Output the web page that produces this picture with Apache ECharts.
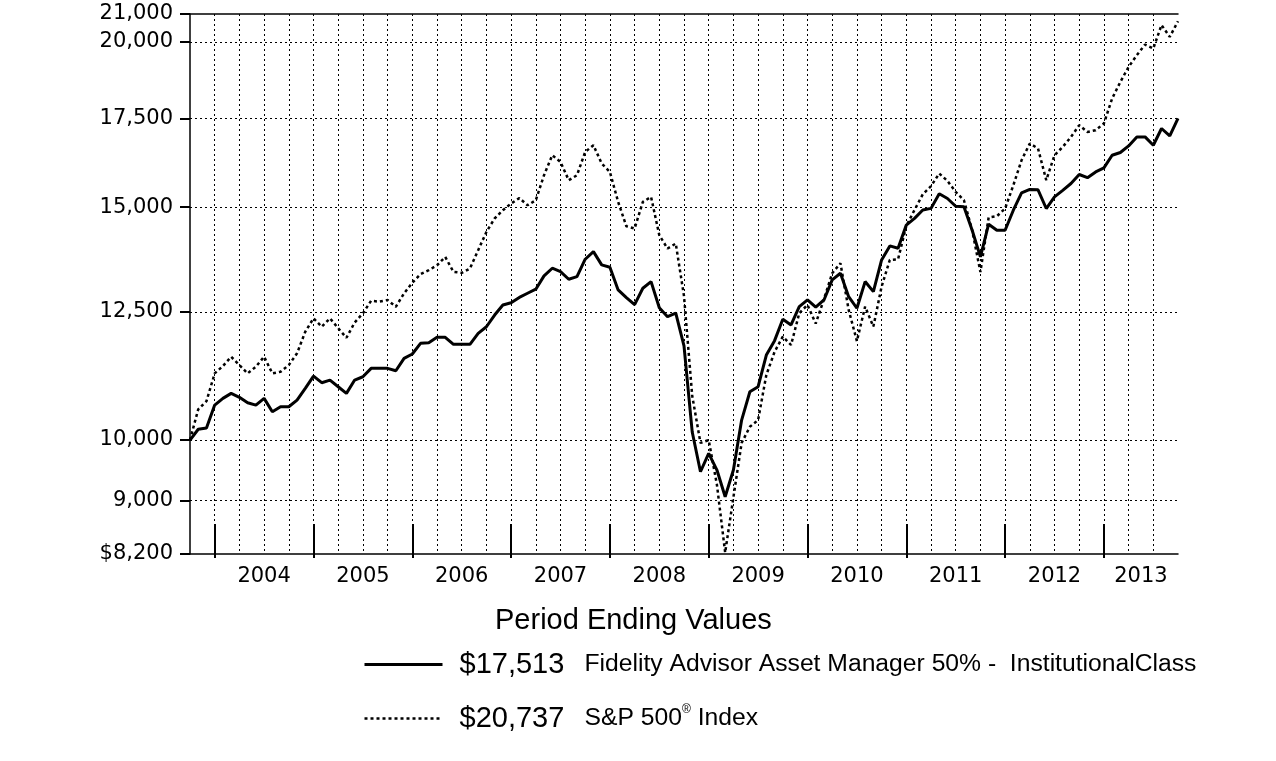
<!DOCTYPE html>
<html><head><meta charset="utf-8">
<script src="https://cdn.jsdelivr.net/npm/echarts@6/dist/echarts.min.js"></script>
<style>html,body{margin:0;padding:0;background:#fff}#c{width:1276px;height:761px}</style>
</head><body><div id="c"></div>
<script>
// Monthly period-ending values of a $10,000 investment, Sep 30 2003 .. Sep 30 2013
const startYear = 2003;
const startMonth = 9;
const fundName = 'Fidelity Advisor Asset Manager 50% -  InstitutionalClass';
const indexName = 'S&P 500® Index';
const fundEnding = '$17,513';
const indexEnding = '$20,737';
const legendTitle = 'Period Ending Values';
const fundValues = [
  10000, 10190, 10210, 10628, 10753, 10847, 10772, 10672, 10628, 10753, 10505, 10597,
  10597, 10721, 10942, 11179, 11050, 11101, 10973, 10847, 11101, 11165, 11330, 11330,
  11330, 11283, 11529, 11616, 11834, 11846, 11958, 11958, 11814, 11814, 11814, 12042,
  12181, 12432, 12650, 12701, 12820, 12913, 13004, 13309, 13488, 13409, 13232, 13293,
  13701, 13884, 13566, 13511, 12987, 12815, 12660, 13025, 13176, 12590, 12397, 12475,
  11780, 10140, 9463, 9771, 9491, 9060, 9491, 10354, 10878, 10973, 11596, 11890,
  12341, 12220, 12616, 12763, 12603, 12763, 13216, 13371, 12837, 12580, 13178, 12950,
  13685, 14023, 13966, 14541, 14711, 14926, 14970, 15356, 15230, 15026, 15009, 14410,
  13757, 14562, 14410, 14410, 14922, 15378, 15473, 15460, 14966, 15272, 15448, 15632,
  15879, 15791, 15951, 16062, 16421, 16500, 16690, 16953, 16953, 16710, 17204, 16983,
  17513
];
const indexValues = [
  10000, 10550, 10700, 11231, 11375, 11561, 11395, 11231, 11362, 11561, 11231, 11263,
  11395, 11630, 12076, 12361, 12181, 12361, 12150, 11950, 12270, 12469, 12745, 12725,
  12761, 12613, 12911, 13150, 13349, 13442, 13558, 13756, 13403, 13380, 13480, 13917,
  14369, 14708, 14922, 15097, 15240, 15050, 15184, 15860, 16421, 16231, 15722, 15860,
  16516, 16710, 16186, 15951, 15139, 14511, 14454, 15139, 15271, 14287, 13959, 14080,
  12850, 10800, 9950, 10000, 9250, 8220, 9050, 9950, 10234, 10354, 11200, 11660,
  11974, 11800, 12472, 12654, 12250, 12780, 13371, 13606, 12543, 11880, 12616, 12184,
  13063, 13685, 13701, 14520, 14930, 15340, 15560, 15907, 15703, 15405, 15184, 14410,
  13401, 14733, 14767, 14966, 15585, 16279, 16760, 16614, 15722, 16421, 16660, 16953,
  17302, 17101, 17152, 17355, 18126, 18659, 19151, 19546, 19912, 19776, 20600, 20180,
  20737
];
const yTicks = [8200, 9000, 10000, 12500, 15000, 17500, 20000, 21000];
const yearLabels = ['2004', '2005', '2006', '2007', '2008', '2009', '2010', '2011', '2012', '2013'];

// ---- derived from the arrays above ----
const nMonths = fundValues.length - 1;
const firstYearEnd = 12 - startMonth;               // month index of first Dec 31
const yearStarts = yearLabels.map(y => firstYearEnd + 12 * (Number(y) - startYear - 1));
const yearMids = yearStarts.map(s => (s + Math.min(s + 12, nMonths)) / 2);
const lnTicks = yTicks.map(Math.log);
const toPts = arr => arr.map((v, i) => [i, Math.log(v)]);

const fmtY = v => {
  let best = 0;
  lnTicks.forEach((t, i) => { if (Math.abs(t - v) < Math.abs(lnTicks[best] - v)) best = i; });
  const s = yTicks[best].toLocaleString('en-US');
  return best === 0 ? '$' + s : s;
};
const fmtX = v => {
  let best = 0;
  yearMids.forEach((m, i) => { if (Math.abs(m - v) < Math.abs(yearMids[best] - v)) best = i; });
  return yearLabels[best];
};

const AX_FONT = 'DejaVu Sans';
const dotted = { color: '#000', width: 1, type: [2, 3] };
const baseX = { type: 'value', min: 0, max: nMonths, position: 'bottom' };
const fundLine = { color: '#000', width: 3 };
const indexLine = { color: '#000', width: 2.5, type: [3, 3] };

const chart = echarts.init(document.getElementById('c'), null, { renderer: 'canvas' });
chart.setOption({
  animation: false,
  backgroundColor: '#fff',
  grid: { left: 190, right: 98, top: 14, bottom: 207, containLabel: false },
  title: {
    text: legendTitle, left: 490, top: 601,
    textStyle: { fontFamily: 'Liberation Sans', fontSize: 29, fontWeight: 'normal', color: '#000' }
  },
  xAxis: [
    Object.assign({}, baseX, {
      interval: 3,
      axisLine: { show: true, lineStyle: { color: '#000', width: 1.5 } },
      axisTick: { show: false }, axisLabel: { show: false },
      splitLine: { show: true, showMinLine: false, showMaxLine: false, lineStyle: dotted }
    }),
    Object.assign({}, baseX, {
      axisLine: { show: false },
      axisTick: { show: true, inside: true, length: 30, customValues: yearStarts, lineStyle: { color: '#000', width: 2 } },
      axisLabel: { show: true, customValues: yearMids, formatter: fmtX, margin: 12,
        fontFamily: AX_FONT, fontSize: 21, color: '#000' },
      splitLine: { show: false }
    }),
    Object.assign({}, baseX, {
      axisLine: { show: false },
      axisTick: { show: true, inside: false, length: 4, customValues: yearStarts, lineStyle: { color: '#000', width: 2 } },
      axisLabel: { show: false }, splitLine: { show: false }
    }),
    Object.assign({}, baseX, {
      position: 'top',
      axisLine: { show: true, lineStyle: { color: '#000', width: 1.5 } },
      axisTick: { show: false }, axisLabel: { show: false }, splitLine: { show: false }
    })
  ],
  yAxis: {
    type: 'value', min: lnTicks[0], max: lnTicks[lnTicks.length - 1],
    axisLine: { show: true, lineStyle: { color: '#000', width: 1.5 } },
    axisTick: { show: true, inside: false, length: 10, customValues: lnTicks, lineStyle: { color: '#000', width: 2 } },
    axisLabel: { show: true, customValues: lnTicks, formatter: fmtY, margin: 17,
      fontFamily: AX_FONT, fontSize: 21, color: '#000' },
    splitLine: { show: true, showMinLine: false, showMaxLine: false, lineStyle: dotted }
  },
  legend: {
    orient: 'vertical', left: 363, top: 650, padding: 0,
    itemWidth: 78, itemHeight: 12, itemGap: 25,
    selectedMode: false,
    itemStyle: { opacity: 0 },
    data: [
      { name: fundName, lineStyle: fundLine },
      { name: indexName, lineStyle: indexLine }
    ],
    formatter: name => name === fundName
      ? '{v|' + fundEnding + '}{n|' + fundName + '}'
      : '{v|' + indexEnding + '}{n|S&P 500}{s|®}{n| Index}',
    textStyle: {
      color: '#000',
      rich: {
        v: { fontFamily: 'Liberation Sans', fontSize: 29, color: '#000', width: 125, padding: [0, 0, 0, 12] },
        n: { fontFamily: 'Liberation Sans', fontSize: 24.7, color: '#000' },
        s: { fontFamily: 'Liberation Sans', fontSize: 12, color: '#000', verticalAlign: 'top' }
      }
    }
  },
  series: [
    { name: fundName, type: 'line', xAxisIndex: 0, data: toPts(fundValues), symbol: 'none',
      lineStyle: fundLine, itemStyle: { color: '#000' }, z: 4 },
    { name: indexName, type: 'line', xAxisIndex: 0, data: toPts(indexValues), symbol: 'none',
      lineStyle: indexLine, itemStyle: { color: '#000' }, z: 3 }
  ]
});
</script></body></html>
